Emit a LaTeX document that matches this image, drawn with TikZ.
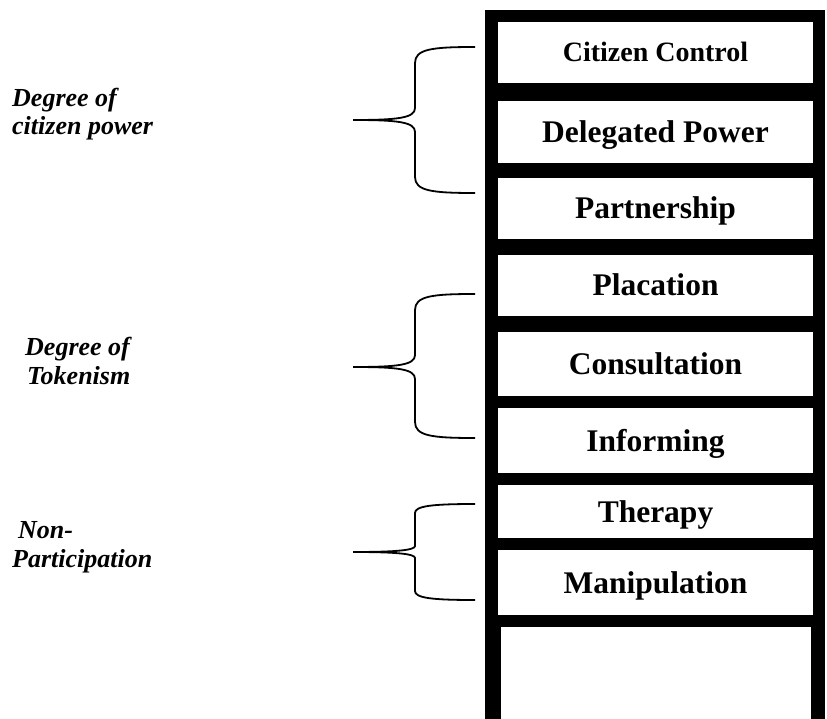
\documentclass[tikz,border=0pt]{standalone}
\usepackage{fontspec}
\setmainfont{Liberation Serif}
% brace: top y, tip y, bottom y, hook size, tip-curve size
\newcommand\mybrace[5]{%
  \draw[bracket] (475,#1) .. controls (432,#1) and (415,{#1+2}) .. (415,{#1+#4})
    -- (415,{#2-#5}) .. controls (415,{#2-2}) and (398,#2) .. (353,#2)
    .. controls (398,#2) and (415,{#2+2}) .. (415,{#2+#5})
    -- (415,{#3-#4}) .. controls (415,{#3-2}) and (432,#3) .. (475,#3);}
\begin{document}
\begin{tikzpicture}[x=1pt,y=-1pt,
  rung/.style={fill=white, inner sep=0pt, minimum width=315pt,
    text height=21pt, text depth=0pt,
    font=\fontsize{31.5}{36}\selectfont\bfseries},
  group/.style={align=left, inner sep=0pt,
    font=\fontsize{26}{28.5}\selectfont\bfseries\itshape},
  bracket/.style={line width=1.8pt}]
\useasboundingbox (0,0) rectangle (827,719);
% ladder frame
\fill[black] (485,10) rectangle (825,719);
% rungs
\node[rung, minimum height=61pt, text height=18.5pt, font=\fontsize{28}{32}\selectfont\bfseries] (r1) at (655.5,52.5) {Citizen Control};
\node[rung, minimum height=62pt] (r2) at (655.5,132) {Delegated Power};
\node[rung, minimum height=61pt] (r3) at (655.5,208.5) {Partnership};
\node[rung, minimum height=61pt] (r4) at (655.5,285.5) {Placation};
\node[rung, minimum height=64pt] (r5) at (655.5,364) {Consultation};
\node[rung, minimum height=65pt] (r6) at (655.5,440.5) {Informing};
\node[rung, minimum height=53pt] (r7) at (655.5,511.5) {Therapy};
\node[rung, minimum height=65pt] (r8) at (655.5,582.5) {Manipulation};
\node[rung, minimum width=310pt, minimum height=92pt] (r9) at (656,673) {};
% braces
\mybrace{47}{120}{193}{16}{12}
\mybrace{294}{367}{438}{16}{12}
\mybrace{504}{552}{600}{9}{6}
% group labels (anchor = baseline of last line)
\node[group, anchor=base west] (g1) at (12,135) {Degree of\\citizen power};
\node[group, anchor=base west] (g2) at (25,384) {Degree of\\\hspace*{2pt}Tokenism};
\node[group, anchor=base west] (g3) at (12,567) {\hspace*{6pt}Non-\\Participation};
\end{tikzpicture}
\end{document}
